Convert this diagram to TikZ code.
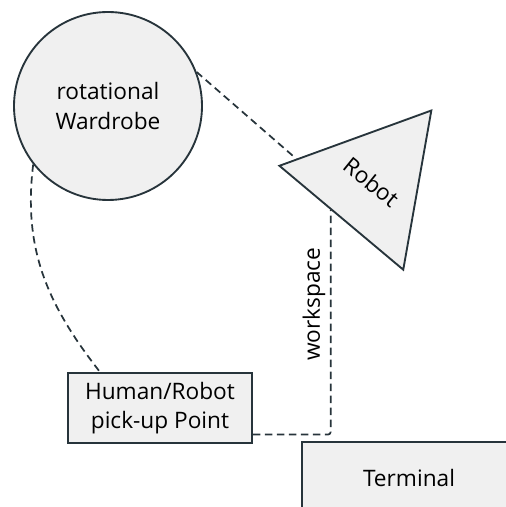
\documentclass[tikz,border=0pt]{standalone}
\usepackage{fontspec}
\setmainfont{Open Sans}
\usetikzlibrary{shapes.geometric, calc}
\definecolor{edgegray}{HTML}{27343B}
\definecolor{fillgray}{HTML}{F0F0F0}

\begin{document}
\begin{tikzpicture}[
		vertex/.style={draw=edgegray, fill=fillgray, line width=1.4pt, font=\fontsize{17}{22}\selectfont, align=center},
		roundvertex/.style={vertex, circle, minimum size=141pt, inner sep=0pt},
		boxvertex/.style={vertex, rectangle, inner sep=0pt},
		trivertex/.style={vertex, regular polygon, regular polygon sides=3, minimum size=140pt, inner sep=0pt},
		link/.style={draw=edgegray, line width=1.3pt, dash pattern=on 5.5pt off 3.5pt}
		]
		\useasboundingbox (0,0) rectangle (379.5pt,380.25pt);

		\node[roundvertex](W) at (81pt,300.75pt){rotational\\Wardrobe};
		\node[trivertex, right of = W, node distance = 197.5pt, yshift = -57pt,
		rotate = -39, shape border rotate = 119](R){Robot};
		\node[boxvertex, below of = W, node distance = 226.5pt, xshift = 39pt,
		minimum width = 138pt, minimum height = 52.5pt](P){Human/Robot\\pick-up Point};
		\node[boxvertex, below of = W, node distance = 279pt, xshift = 225.75pt,
		minimum width = 160.5pt, minimum height = 54pt](T){Terminal};

		\draw[link] (W.21) -- ($(R.corner 1)!0.12!(R.corner 3)$);
		\draw[link] (W.218) to[out=263, in=128] ([xshift=-45pt]P.north);
		\draw[link, rounded corners=2pt] ([yshift=7pt]P.south east) -| ($(R.corner 1)!0.42!(R.corner 2)$)
		node [pos=0.79, above, sloped, font=\fontsize{17}{20}\selectfont]{workspace};
	\end{tikzpicture}
\end{document}
